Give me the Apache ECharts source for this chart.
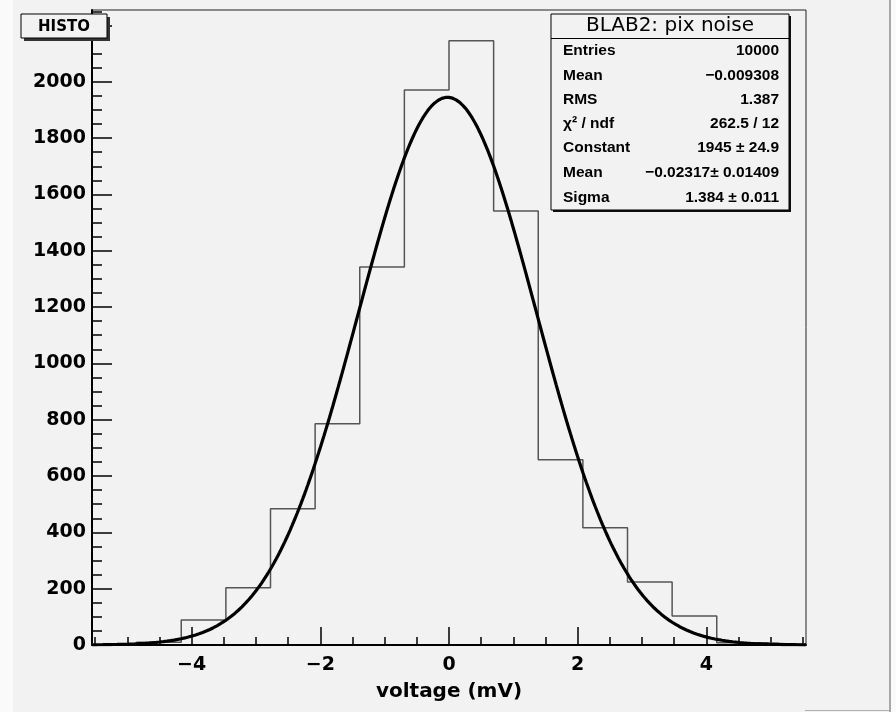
<!DOCTYPE html>
<html>
<head>
<meta charset="utf-8">
<script src="https://cdn.jsdelivr.net/npm/echarts@6/dist/echarts.min.js"></script>
<style>
  html, body { margin: 0; padding: 0; background: #fafafa; }
  #chart { width: 896px; height: 712px; }
</style>
</head>
<body>
<div id="chart"></div>
<script>
// Histogram of pixel noise voltages with a Gaussian fit (ROOT-style display)
const histRange = [-5.548, 5.548];
const binCounts = [2, 10, 89, 203, 484, 786, 1342, 1971, 2146, 1541, 658, 416, 224, 103, 8, 2];
const yMax = 2255;

// Fit parameters as reported in the stats box
const fitConstant = 1945;
const fitMean = -0.02317;
const fitSigma = 1.384;

const xMajorTicks = [-4, -2, 0, 2, 4];
const xMinorTicks = [-5.5, -5, -4.5, -3.5, -3, -2.5, -1.5, -1, -0.5, 0.5, 1, 1.5, 2.5, 3, 3.5, 4.5, 5, 5.5];
const yMajorTicks = [0, 200, 400, 600, 800, 1000, 1200, 1400, 1600, 1800, 2000, 2200];
const yMinorTicks = [50, 100, 150, 250, 300, 350, 450, 500, 550, 650, 700, 750, 850, 900, 950,
  1050, 1100, 1150, 1250, 1300, 1350, 1450, 1500, 1550, 1650, 1700, 1750, 1850, 1900, 1950,
  2050, 2100, 2150, 2250];

const histTitle = 'HISTO';
const xTitle = 'voltage (mV)';
const statsTitle = 'BLAB2: pix noise';
const statNames = ['Entries', 'Mean', 'RMS', 'χ² / ndf', 'Constant', 'Mean', 'Sigma'];
const statValues = ['10000', '\u22120.009308', '1.387', '262.5 / 12', '1945 \u00b1 24.9', '\u22120.02317\u00b1 0.01409', '1.384 \u00b1 0.011'];

// Step outline of the histogram
const binWidth = (histRange[1] - histRange[0]) / binCounts.length;
const histOutline = [[histRange[0], 0]];
binCounts.forEach((c, i) => {
  const lo = histRange[0] + i * binWidth;
  histOutline.push([lo, c], [lo + binWidth, c]);
});
histOutline.push([histRange[1], 0]);

// Fitted Gaussian evaluated across the axis range
const fitCurve = [];
const nFit = 400;
for (let i = 0; i <= nFit; i++) {
  const x = histRange[0] + i * (histRange[1] - histRange[0]) / nFit;
  const z = (x - fitMean) / fitSigma;
  fitCurve.push([x, fitConstant * Math.exp(-0.5 * z * z)]);
}

const tickFont = { fontFamily: 'DejaVu Sans', fontWeight: 'bold', fontSize: 19, color: '#000' };
const plain = v => String(v).replace('-', '\u2212');

const chart = echarts.init(document.getElementById('chart'), null, { renderer: 'canvas' });

const statsBox = { x: 551, y: 14, w: 238, h: 196 };
const statRowY = [51, 76, 100, 124, 148, 173, 198];
const statFont = 'bold 15.5px "Liberation Sans"';

const graphics = [
  // window edges
  { type: 'rect', shape: { x: 0, y: 0, width: 13, height: 712 }, style: { fill: '#fafafa' }, z: 1 },
  { type: 'rect', shape: { x: 889, y: 0, width: 2, height: 712 }, style: { fill: '#a8a8a8' }, z: 1 },
  { type: 'rect', shape: { x: 891, y: 0, width: 5, height: 712 }, style: { fill: '#fafafa' }, z: 1 },
  { type: 'rect', shape: { x: 805, y: 710, width: 84, height: 1 }, style: { fill: '#b0b0b0' }, z: 1 },
  // title box
  { type: 'rect', shape: { x: 24, y: 17, width: 86, height: 24 }, style: { fill: '#333' }, z: 100 },
  { type: 'rect', shape: { x: 21, y: 14, width: 86, height: 24 }, style: { fill: '#f2f2f2', stroke: '#000', lineWidth: 1 }, z: 101 },
  { type: 'text', x: 64, y: 27, z: 102,
    style: { text: histTitle, font: 'bold 15px "DejaVu Sans"', fill: '#000',
      align: 'center', verticalAlign: 'middle', textAlign: 'center', textVerticalAlign: 'middle' } },
  // stats box
  { type: 'rect', shape: { x: statsBox.x + 2, y: statsBox.y + 2, width: statsBox.w, height: statsBox.h }, style: { fill: '#111' }, z: 100 },
  { type: 'rect', shape: { x: statsBox.x, y: statsBox.y, width: statsBox.w, height: statsBox.h }, style: { fill: '#f2f2f2', stroke: '#000', lineWidth: 1 }, z: 101 },
  { type: 'line', shape: { x1: statsBox.x, y1: 38.5, x2: statsBox.x + statsBox.w, y2: 38.5 }, style: { stroke: '#000', lineWidth: 1 }, z: 102 },
  { type: 'text', x: statsBox.x + statsBox.w / 2, y: 26, z: 102,
    style: { text: statsTitle, font: '20px "DejaVu Sans"', fill: '#000',
      align: 'center', verticalAlign: 'middle', textAlign: 'center', textVerticalAlign: 'middle' } }
];
statNames.forEach((name, i) => {
  graphics.push({ type: 'text', x: 563, y: statRowY[i], z: 102,
    style: { text: name, font: statFont, fill: '#000',
      align: 'left', verticalAlign: 'middle', textAlign: 'left', textVerticalAlign: 'middle' } });
  graphics.push({ type: 'text', x: 779, y: statRowY[i], z: 102,
    style: { text: statValues[i], font: statFont, fill: '#000',
      align: 'right', verticalAlign: 'middle', textAlign: 'right', textVerticalAlign: 'middle' } });
});

chart.setOption({
  animation: false,
  backgroundColor: '#f2f2f2',
  grid: {
    left: 92, right: 90, top: 10, bottom: 67,
    containLabel: false, outerBoundsMode: 'none',
    show: true, borderColor: '#222', borderWidth: 1, backgroundColor: 'transparent'
  },
  xAxis: [
    {
      type: 'value', min: histRange[0], max: histRange[1],
      name: xTitle, nameLocation: 'middle', nameGap: 37,
      nameTextStyle: { fontFamily: 'DejaVu Sans', fontWeight: 'bold', fontSize: 20, color: '#000' },
      axisLine: { show: true, onZero: false, lineStyle: { color: '#000', width: 2 } },
      axisTick: { show: true, inside: true, length: 18, customValues: xMajorTicks, lineStyle: { color: '#000', width: 1.5 } },
      axisLabel: { show: true, customValues: xMajorTicks, margin: 11, formatter: plain, ...tickFont },
      splitLine: { show: false }
    },
    {
      type: 'value', min: histRange[0], max: histRange[1], position: 'bottom',
      axisLine: { show: false, onZero: false },
      axisTick: { show: true, inside: true, length: 8, customValues: xMinorTicks, lineStyle: { color: '#000', width: 1.5 } },
      axisLabel: { show: false },
      splitLine: { show: false }
    }
  ],
  yAxis: [
    {
      type: 'value', min: 0, max: yMax,
      axisLine: { show: true, onZero: false, lineStyle: { color: '#000', width: 2 } },
      axisTick: { show: true, inside: true, length: 20, customValues: yMajorTicks, lineStyle: { color: '#000', width: 1.5 } },
      axisLabel: { show: true, customValues: yMajorTicks, margin: 6, formatter: plain, ...tickFont },
      splitLine: { show: false }
    },
    {
      type: 'value', min: 0, max: yMax, position: 'left',
      axisLine: { show: false, onZero: false },
      axisTick: { show: true, inside: true, length: 10, customValues: yMinorTicks, lineStyle: { color: '#000', width: 1.5 } },
      axisLabel: { show: false },
      splitLine: { show: false }
    }
  ],
  series: [
    {
      name: 'histogram', type: 'line', data: histOutline,
      xAxisIndex: 0, yAxisIndex: 0,
      symbol: 'none', showSymbol: false, clip: true, z: 3,
      lineStyle: { color: '#555', width: 1.5 }
    },
    {
      name: 'gaus', type: 'line', data: fitCurve,
      xAxisIndex: 0, yAxisIndex: 0,
      symbol: 'none', showSymbol: false, clip: true, z: 4,
      lineStyle: { color: '#000', width: 3.2 }
    }
  ],
  graphic: { elements: graphics }
});
</script>
</body>
</html>
